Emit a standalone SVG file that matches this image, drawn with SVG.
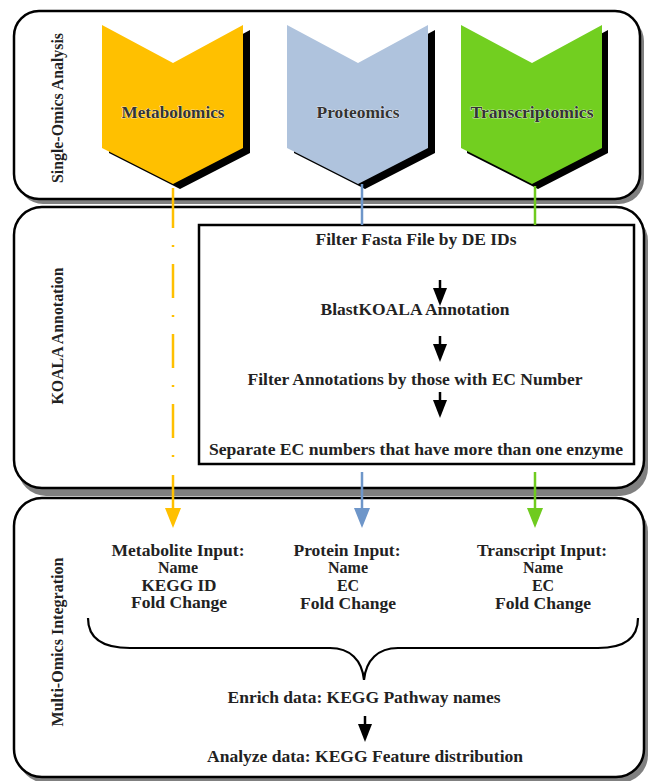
<svg xmlns="http://www.w3.org/2000/svg" xmlns:xlink="http://www.w3.org/1999/xlink" width="648" height="781" viewBox="0 0 648 781">
<style>
.panel{fill:#fff;stroke:#000;stroke-width:2.5}
.pshadow{fill:#808080}
.t{font-family:"Liberation Serif","Times New Roman",serif;font-weight:bold;font-size:16px;fill:#222;text-anchor:middle}
.ct{font-family:"Liberation Serif","Times New Roman",serif;font-weight:bold;font-size:16px;fill:#333;text-anchor:middle;stroke:#fff;stroke-width:0.6;paint-order:stroke}
.box{fill:none;stroke:#000;stroke-width:2.5}
.blk{stroke:#000;stroke-width:2.5;fill:none}
.y{stroke:#FFC000;stroke-width:2.5;fill:none}
.b{stroke:#6E96C9;stroke-width:2.5;fill:none}
.g{stroke:#6FCB1F;stroke-width:2.5;fill:none}
.brace{fill:none;stroke:#000;stroke-width:2.2}
</style>
<defs>
<path id="chev" d="M0,0 L71,38 L141,0 L141,123 L71,159 L0,123 Z"/>
<marker id="ahK" markerUnits="userSpaceOnUse" markerWidth="18" markerHeight="14" refX="0" refY="7" orient="auto"><path d="M0,0 L18,7 L0,14 Z" fill="#000"/></marker>
<marker id="ahY" markerUnits="userSpaceOnUse" markerWidth="20" markerHeight="16" refX="0" refY="8" orient="auto"><path d="M0,0 L20,8 L0,16 Z" fill="#FFC000"/></marker>
<marker id="ahB" markerUnits="userSpaceOnUse" markerWidth="20" markerHeight="16" refX="0" refY="8" orient="auto"><path d="M0,0 L20,8 L0,16 Z" fill="#6E96C9"/></marker>
<marker id="ahG" markerUnits="userSpaceOnUse" markerWidth="20" markerHeight="16" refX="0" refY="8" orient="auto"><path d="M0,0 L20,8 L0,16 Z" fill="#6FCB1F"/></marker>
</defs>

<g id="panel-single">
<rect class="pshadow" x="18" y="16" width="626" height="188" rx="25"/>
<rect class="panel" x="14" y="11" width="626" height="188" rx="25"/>
<text class="t" transform="translate(63,108) rotate(-90)" textLength="150" lengthAdjust="spacingAndGlyphs">Single-Omics Analysis</text>
</g>

<g id="panel-koala">
<rect class="pshadow" x="18" y="213" width="630" height="283" rx="28"/>
<rect class="panel" x="14" y="207" width="630" height="281" rx="28"/>
<text class="t" transform="translate(63,336) rotate(-90)" textLength="137" lengthAdjust="spacingAndGlyphs">KOALA Annotation</text>
</g>

<g id="panel-multi">
<rect class="pshadow" x="18" y="504" width="630" height="279" rx="28"/>
<rect class="panel" x="14" y="498" width="630" height="279" rx="28"/>
<text class="t" transform="translate(63,642) rotate(-90)" textLength="169" lengthAdjust="spacingAndGlyphs">Multi-Omics Integration</text>
</g>

<g id="node-metabolomics">
<use xlink:href="#chev" href="#chev" x="109" y="30" fill="#000"/>
<use xlink:href="#chev" href="#chev" x="102" y="25" fill="#FFC000"/>
<text class="ct" x="173" y="118" textLength="103" lengthAdjust="spacingAndGlyphs">Metabolomics</text>
</g>
<g id="node-proteomics">
<use xlink:href="#chev" href="#chev" x="294" y="30" fill="#000"/>
<use xlink:href="#chev" href="#chev" x="287" y="25" fill="#AFC3DD"/>
<text class="ct" x="358" y="118" textLength="83" lengthAdjust="spacingAndGlyphs">Proteomics</text>
</g>
<g id="node-transcriptomics">
<use xlink:href="#chev" href="#chev" x="467" y="30" fill="#000"/>
<use xlink:href="#chev" href="#chev" x="461" y="25" fill="#72CF20"/>
<text class="ct" x="532" y="118" textLength="123" lengthAdjust="spacingAndGlyphs">Transcriptomics</text>
</g>

<g id="node-koala-box">
<rect class="box" x="199" y="225" width="435" height="239"/>
<text class="t" x="416" y="245" textLength="201" lengthAdjust="spacingAndGlyphs">Filter Fasta File by DE IDs</text>
<text class="t" x="415" y="315" textLength="189" lengthAdjust="spacingAndGlyphs">BlastKOALA Annotation</text>
<text class="t" x="415" y="385" textLength="335" lengthAdjust="spacingAndGlyphs">Filter Annotations by those with EC Number</text>
<text class="t" x="416" y="455" textLength="414" lengthAdjust="spacingAndGlyphs">Separate EC numbers that have more than one enzyme</text>
</g>

<g id="node-metabolite-input">
<text class="t" x="178" y="556" textLength="133" lengthAdjust="spacingAndGlyphs">Metabolite Input:</text>
<text class="t" x="178" y="573">Name</text>
<text class="t" x="179" y="591" textLength="75" lengthAdjust="spacingAndGlyphs">KEGG ID</text>
<text class="t" x="179" y="608" textLength="96" lengthAdjust="spacingAndGlyphs">Fold Change</text>
</g>
<g id="node-protein-input">
<text class="t" x="347" y="556" textLength="107" lengthAdjust="spacingAndGlyphs">Protein Input:</text>
<text class="t" x="348" y="573">Name</text>
<text class="t" x="348" y="591">EC</text>
<text class="t" x="348" y="609" textLength="96" lengthAdjust="spacingAndGlyphs">Fold Change</text>
</g>
<g id="node-transcript-input">
<text class="t" x="542" y="556" textLength="130" lengthAdjust="spacingAndGlyphs">Transcript Input:</text>
<text class="t" x="543" y="573">Name</text>
<text class="t" x="543" y="591">EC</text>
<text class="t" x="543" y="609" textLength="96" lengthAdjust="spacingAndGlyphs">Fold Change</text>
</g>
<g id="node-enrich">
<text class="t" x="364" y="703" textLength="273" lengthAdjust="spacingAndGlyphs">Enrich data: KEGG Pathway names</text>
</g>
<g id="node-analyze">
<text class="t" x="365" y="762" textLength="316" lengthAdjust="spacingAndGlyphs">Analyze data: KEGG Feature distribution</text>
</g>

<g id="connectors">
<line class="y" x1="173" y1="188" x2="173" y2="194"/>
<line class="y" x1="173" y1="194" x2="173" y2="470" stroke-dasharray="34 17 2 17"/>
<line class="y" x1="173" y1="475" x2="173" y2="508" marker-end="url(#ahY)"/>
<line class="b" x1="362" y1="184" x2="362" y2="225"/>
<line class="b" x1="362" y1="472" x2="362" y2="508" marker-end="url(#ahB)"/>
<line class="g" x1="535" y1="186" x2="535" y2="225"/>
<line class="g" x1="535" y1="472" x2="535" y2="508" marker-end="url(#ahG)"/>
<line class="blk" x1="440" y1="280" x2="440" y2="288" marker-end="url(#ahK)"/>
<line class="blk" x1="440" y1="336" x2="440" y2="344" marker-end="url(#ahK)"/>
<line class="blk" x1="440" y1="392" x2="440" y2="400" marker-end="url(#ahK)"/>
<path class="brace" d="M88,618 C88,640 105,648 130,648 L330,648 C350,648 362,660 364,680 C366,660 378,648 398,648 L598,648 C622,648 638,640 638,618"/>
<line class="blk" x1="365" y1="716" x2="365" y2="724" marker-end="url(#ahK)"/>
</g>
</svg>
